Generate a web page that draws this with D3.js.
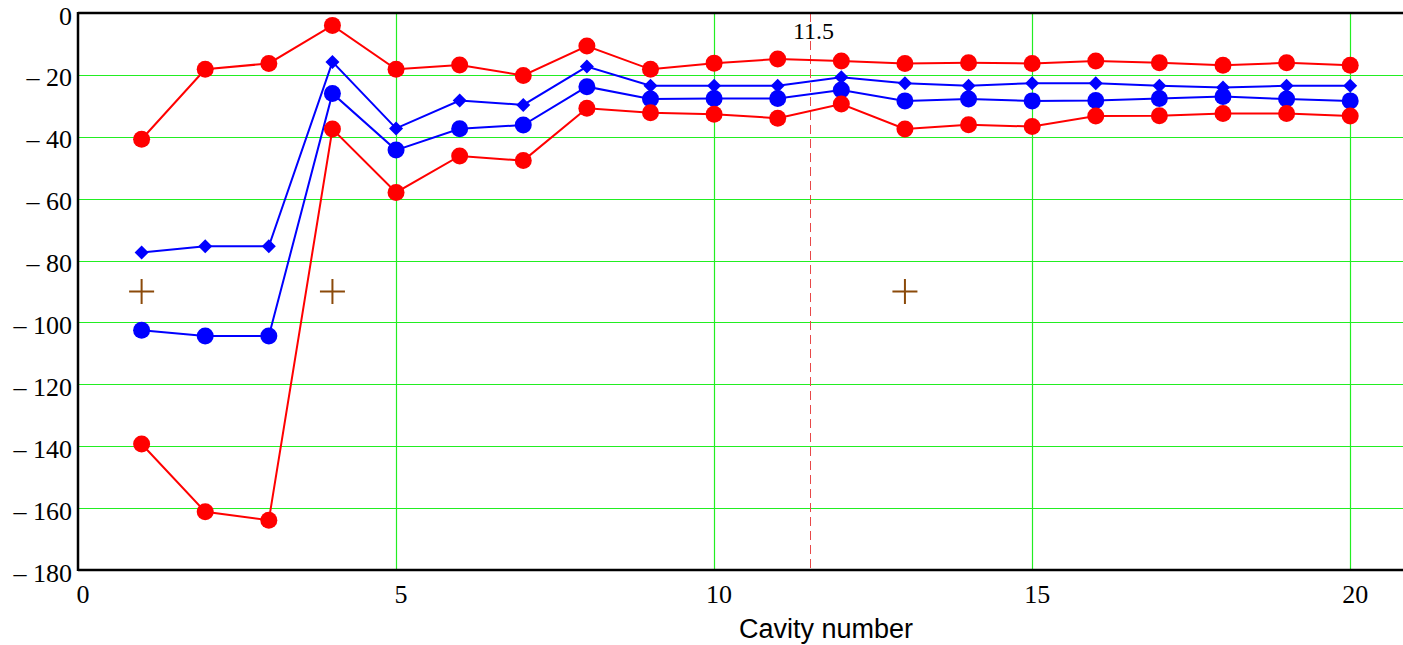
<!DOCTYPE html>
<html><head><meta charset="utf-8">
<script src="https://cdn.jsdelivr.net/npm/d3@7"></script>
<style>body{margin:0;background:#fff}svg{display:block}</style>
</head><body>
<script>
const cavities = [1,2,3,4,5,6,7,8,9,10,11,12,13,14,15,16,17,18,19,20];
const redTop    = [-40.8,-18.2,-16.3,-4.0,-18.2,-16.8,-20.2,-10.7,-18.2,-16.2,-14.9,-15.5,-16.3,-16.1,-16.3,-15.5,-16.1,-16.9,-16.1,-16.9];
const blueDiam  = [-77.4,-75.4,-75.4,-15.8,-37.3,-28.3,-29.7,-17.3,-23.5,-23.5,-23.5,-20.8,-22.7,-23.5,-22.7,-22.7,-23.5,-24.1,-23.5,-23.5];
const blueCirc  = [-102.5,-104.4,-104.4,-26.0,-44.3,-37.4,-36.2,-23.8,-27.8,-27.6,-27.6,-24.9,-28.4,-27.8,-28.4,-28.3,-27.6,-27.0,-27.8,-28.4];
const redBot    = [-139.3,-161.2,-163.9,-37.5,-58.0,-46.2,-47.7,-30.8,-32.2,-32.7,-34.0,-29.4,-37.5,-36.1,-36.7,-33.3,-33.2,-32.5,-32.5,-33.3];
const crossX = [1,4,13];
const crossY = [-90,-90,-90];
const markerX = 11.5;
const xTicks = [0,5,10,15,20];
const yTicks = [0,-20,-40,-60,-80,-100,-120,-140,-160,-180];

const W=1403,H=645;
const L=78,T=13,B=570,R=1403;
const serif="'Liberation Serif', 'Times New Roman', serif";
const x=d3.scaleLinear().domain([0,20.83]).range([L,R]);
const y=d3.scaleLinear().domain([0,-180]).range([T,B]);
const svg=d3.select("body").append("svg").attr("width",W).attr("height",H);

// grid
const g=svg.append("g");
g.selectAll("line.hg").data(yTicks.filter(v=>v!==0&&v!==-180)).join("line")
 .attr("x1",L).attr("x2",R).attr("y1",d=>Math.round(y(d))+0.5).attr("y2",d=>Math.round(y(d))+0.5)
 .attr("stroke","#22ee22").attr("stroke-width",1.2);
g.selectAll("line.vg").data(xTicks.filter(v=>v!==0)).join("line")
 .attr("y1",T).attr("y2",B).attr("x1",d=>Math.round(x(d))+0.5).attr("x2",d=>Math.round(x(d))+0.5)
 .attr("stroke","#22ee22").attr("stroke-width",1.2);

// marker line
const mx=Math.round(x(markerX))+0.5;
svg.append("line").attr("x1",mx).attr("x2",mx).attr("y1",T).attr("y2",B)
 .attr("stroke","#e84848").attr("stroke-width",1).attr("stroke-dasharray","9,5");
svg.append("text").attr("x",x(markerX)+4).attr("y",39).attr("text-anchor","middle")
 .style("font-family",serif).attr("font-size",24).text(String(markerX));

// axes frame
svg.append("line").attr("x1",L).attr("x2",R).attr("y1",T).attr("y2",T).attr("stroke","#000").attr("stroke-width",2.5);
svg.append("line").attr("x1",L).attr("x2",R).attr("y1",B).attr("y2",B).attr("stroke","#000").attr("stroke-width",2.5);
svg.append("line").attr("x1",L).attr("x2",L).attr("y1",T-1).attr("y2",B+1).attr("stroke","#000").attr("stroke-width",2.5);

// tick labels
const fmt=v=>v<0?"\u2013 "+Math.abs(v):String(v);
svg.selectAll("text.yt").data(yTicks).join("text")
 .attr("x",72).attr("y",d=>y(d)+11.5).attr("text-anchor","end")
 .style("font-family",serif).attr("font-size",26).text(fmt);
svg.selectAll("text.xt").data(xTicks).join("text")
 .attr("x",d=>x(d)+5).attr("y",603).attr("text-anchor","middle")
 .style("font-family",serif).attr("font-size",26).text(d=>d);
svg.append("text").attr("x",826).attr("y",638).attr("text-anchor","middle")
 .style("font-family","'Liberation Sans', Arial, sans-serif").attr("font-size",27).text("Cavity number");

// series
const line=d3.line().x((d,i)=>x(cavities[i])).y(d=>y(d));
function series(vals,color,shape){
  svg.append("path").datum(vals).attr("d",line).attr("fill","none").attr("stroke",color).attr("stroke-width",2);
  if(shape==="circle"){
    svg.selectAll(null).data(vals).join("circle").attr("cx",(d,i)=>x(cavities[i])).attr("cy",d=>y(d)).attr("r",8.5).attr("fill",color);
  } else {
    const s=7;
    svg.selectAll(null).data(vals).join("path")
     .attr("d",(d,i)=>{const cx=x(cavities[i]),cy=y(d);return `M${cx},${cy-s}L${cx+s},${cy}L${cx},${cy+s}L${cx-s},${cy}Z`;})
     .attr("fill",color);
  }
}
series(redTop,"#ff0000","circle");
series(blueDiam,"#0000ff","diamond");
series(blueCirc,"#0000ff","circle");
series(redBot,"#ff0000","circle");

// crosses
const cs=12.5;
crossX.forEach((cx,i)=>{
  const px=x(cx),py=y(crossY[i]);
  svg.append("path").attr("d",`M${px-cs},${py}H${px+cs}M${px},${py-cs}V${py+cs}`)
   .attr("stroke","#8b4a0a").attr("stroke-width",2).attr("fill","none");
});
</script>
</body></html>
